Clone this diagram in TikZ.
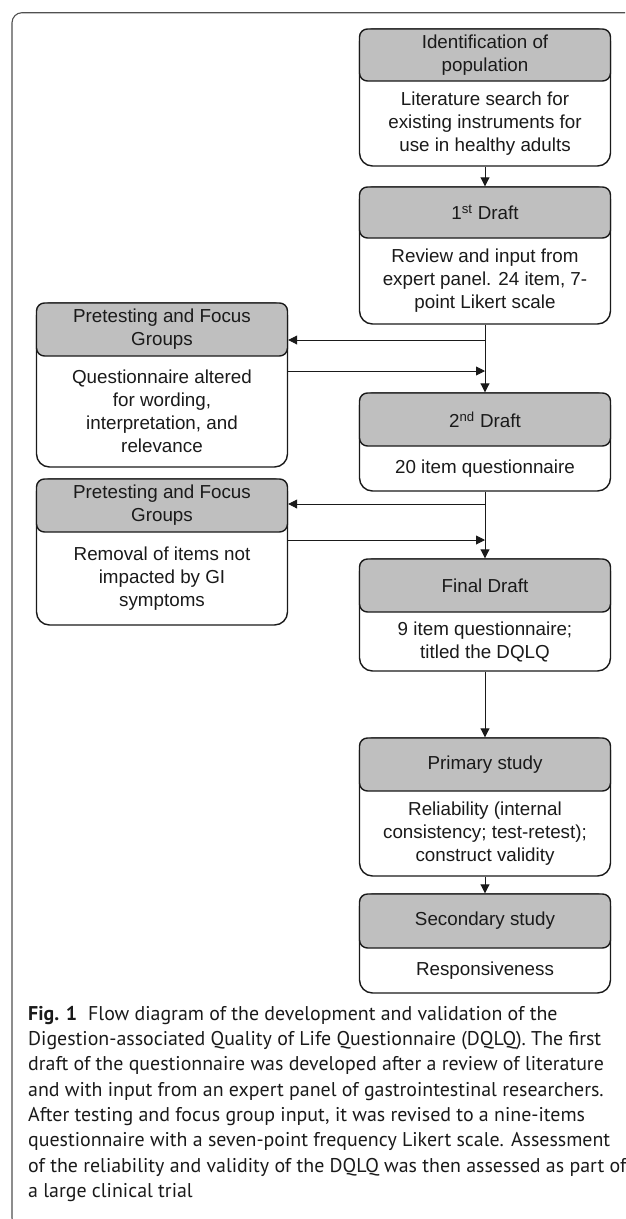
\documentclass[tikz,border=0pt]{standalone}
\usepackage{fontspec}
\setmainfont{Liberation Sans}
\newfontfamily\capfont{PT Sans}
\usetikzlibrary{arrows.meta}
\definecolor{headgray}{HTML}{BFBFBF}
\definecolor{framegray}{HTML}{505050}
\definecolor{ink}{HTML}{1A1A1A}
\newcommand{\boxfont}{\fontsize{18.8}{23}\selectfont}
\newcommand{\stagebox}[7]{%
  \node[outerbox, minimum height={#5-#3}] (#1) at (#2,{(#3+#5)/2}) {};
  \node[headbox, minimum height={#4-#3}] (#1-h) at (#2,{(#3+#4)/2}) {#6};
  \node[bodytext] (#1-b) at (#2,{(#4+#5)/2}) {#7};
}
\tikzset{
  outerbox/.style={draw=ink, line width=1.4pt, rounded corners=13pt, fill=white,
    minimum width=251pt, inner sep=0pt},
  headbox/.style={draw=ink, line width=1.4pt, rounded corners=8pt, fill=headgray,
    minimum width=251pt, inner sep=0pt, align=center, font=\boxfont, text=ink},
  bodytext/.style={align=center, font=\boxfont, inner sep=0pt, text=ink},
  conn/.style={draw=ink, line width=0.9pt, -{Triangle[length=9pt,width=9pt]}},
  framestyle/.style={draw=framegray, line width=1.1pt, rounded corners=10pt},
  capnode/.style={align=left, inner sep=0pt, text=ink,
    font=\capfont\fontsize{19.9}{25.3}\selectfont}
}
\begin{document}
\begin{tikzpicture}[x=1pt,y=-1pt]
\useasboundingbox (0,0) rectangle (625,1219);
\clip (0,0) rectangle (625,1219);
\draw[framestyle] (650,12.7) -- (12,12.7) -- (12,1228) -- (650,1228);

\stagebox{b1}{485}{29}{81}{166}{Identification of\\population}{Literature search for\\existing instruments for\\use in healthy adults}
\stagebox{b2}{485}{187}{238}{324}{1\textsuperscript{st} Draft}{Review and input from\\expert panel. 24 item, 7-\\point Likert scale}
\stagebox{b3}{485}{393}{446}{491}{2\textsuperscript{nd} Draft}{20 item questionnaire}
\stagebox{b4}{485}{559}{612}{671}{Final Draft}{9 item questionnaire;\\titled the DQLQ}
\stagebox{b5}{485}{738}{791}{876}{Primary study}{Reliability (internal\\consistency; test-retest);\\construct validity}
\stagebox{b6}{485}{894}{948}{993}{Secondary study}{Responsiveness}
\stagebox{l1}{162}{303}{356}{467}{Pretesting and Focus\\Groups}{Questionnaire altered\\for wording,\\interpretation, and\\relevance}
\stagebox{l2}{162}{479}{532}{625}{Pretesting and Focus\\Groups}{Removal of items not\\impacted by GI\\symptoms}

\coordinate (j1) at (485,340);
\coordinate (j2) at (485,371);
\coordinate (j3) at (485,504);
\coordinate (j4) at (485,540);

\draw[conn] (b1) -- (b2);
\draw[conn] (b2) -- (b3);
\draw[conn] (j1) -- (j1 -| l1.east);
\draw[conn] (j2 -| l1.east) -- (j2);
\draw[conn] (b3) -- (b4);
\draw[conn] (j3) -- (j3 -| l2.east);
\draw[conn] (j4 -| l2.east) -- (j4);
\draw[conn] (b4) -- (b5);
\draw[conn] (b5) -- (b6);

\node[capnode, anchor=north west] (cap) at (28,1006) {\textbf{Fig. 1}\hspace{0.55em}Flow diagram of the development and validation of the\\
Digestion-associated Quality of Life Questionnaire (DQLQ). The first\\
draft of the questionnaire was developed after a review of literature\\
and with input from an expert panel of gastrointestinal researchers.\\
After testing and focus group input, it was revised to a nine-items\\
questionnaire with a seven-point frequency Likert scale. Assessment\\
of the reliability and validity of the DQLQ was then assessed as part of\\
a large clinical trial};
\end{tikzpicture}
\end{document}
